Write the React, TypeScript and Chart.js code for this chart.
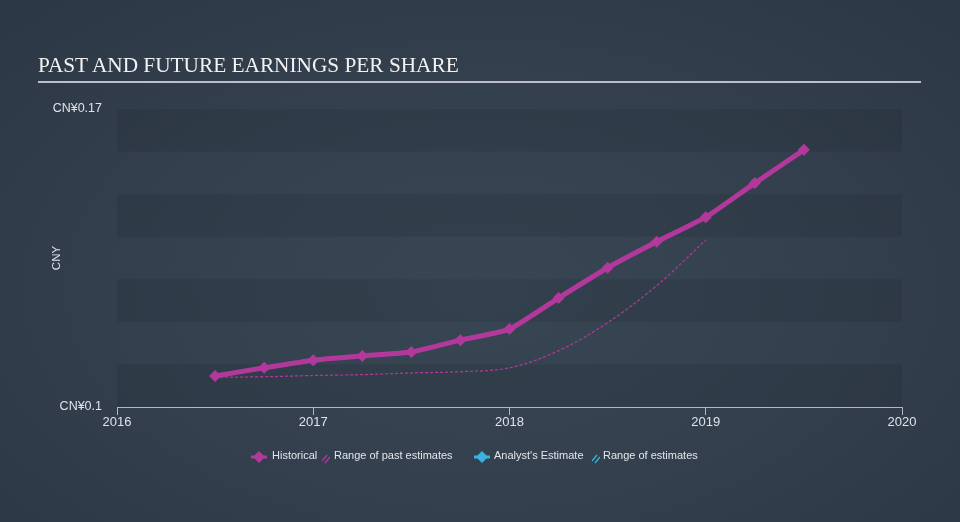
import React, { useEffect, useRef } from "react";
import { Chart, registerables } from "chart.js";

Chart.register(...registerables);

// ---- data ----
const historicalDates = [2016.5, 2016.75, 2017.0, 2017.25, 2017.5, 2017.75, 2018.0, 2018.25, 2018.5, 2018.75, 2019.0, 2019.25, 2019.5];
const historicalEps = [0.1073, 0.1092, 0.111, 0.112, 0.1129, 0.1157, 0.1183, 0.1256, 0.1327, 0.1388, 0.1446, 0.1526, 0.1604];
const pastEstimateDates = [2016.5, 2016.75, 2017.0, 2017.25, 2017.5, 2017.75, 2018.0, 2018.25, 2018.5, 2018.75, 2019.0];
const pastEstimateEps = [0.107, 0.1071, 0.1074, 0.1076, 0.108, 0.1083, 0.1092, 0.1132, 0.1198, 0.1285, 0.1392];
const yTicks = [0.1, 0.17];
const xTickYears = [2016, 2017, 2018, 2019, 2020];
const bandStep = 0.01;

const PINK = "#b3389c";
const BLUE = "#3ab2e0";
const FONT = "'Liberation Sans', Arial, sans-serif";

const bandsPlugin = {
  id: "bands",
  beforeDatasetsDraw(chart: any) {
    const { ctx, chartArea, scales } = chart;
    const y = scales.y;
    ctx.save();
    ctx.fillStyle = "rgba(0,0,0,0.075)";
    let i = 0;
    for (let v = y.max; v > y.min + 1e-9; v -= bandStep) {
      if (i % 2 === 0) {
        const top = y.getPixelForValue(v);
        const bot = y.getPixelForValue(Math.max(v - bandStep, y.min));
        ctx.fillRect(chartArea.left, top, chartArea.right - chartArea.left, bot - top);
      }
      i++;
    }
    ctx.restore();
  },
};

function Diamond({ color }: { color: string }) {
  return (
    <svg width="16" height="12" viewBox="0 0 16 12">
      <line x1="0" y1="6" x2="16" y2="6" stroke={color} strokeWidth="3" />
      <polygon points="8,0 14,6 8,12 2,6" fill={color} />
    </svg>
  );
}

function Hatch({ color }: { color: string }) {
  return (
    <svg width="8" height="10" viewBox="0 0 8 10">
      <line x1="0" y1="7" x2="5" y2="1" stroke={color} strokeWidth="1.3" />
      <line x1="3" y1="9" x2="8" y2="3" stroke={color} strokeWidth="1.3" />
    </svg>
  );
}

export default function App() {
  const canvasRef = useRef<HTMLCanvasElement | null>(null);

  useEffect(() => {
    document.body.style.margin = "0";
    const canvas = canvasRef.current;
    if (!canvas) return;
    const chart = new Chart(canvas, {
      type: "line",
      data: {
        datasets: [
          {
            label: "Range of past estimates",
            data: pastEstimateDates.map((x, i) => ({ x, y: pastEstimateEps[i] })),
            borderColor: PINK,
            borderWidth: 1.2,
            borderDash: [3, 2],
            pointRadius: 0,
            cubicInterpolationMode: "monotone",
            fill: false,
          },
          {
            label: "Historical",
            data: historicalDates.map((x, i) => ({ x, y: historicalEps[i] })),
            borderColor: PINK,
            backgroundColor: PINK,
            borderWidth: 5,
            pointStyle: "rectRot",
            pointRadius: 6,
            pointBorderWidth: 0,
            tension: 0.15,
            fill: false,
          },
        ],
      },
      options: {
        animation: false,
        responsive: false,
        clip: false as any,
        layout: { padding: { top: 109, right: 58, left: 0, bottom: 0 } },
        plugins: { legend: { display: false }, tooltip: { enabled: false } },
        scales: {
          x: {
            type: "linear",
            min: 2016,
            max: 2020,
            afterBuildTicks: (s: any) => {
              s.ticks = xTickYears.map((v) => ({ value: v }));
            },
            afterFit: (s: any) => {
              s.height = 115;
            },
            ticks: {
              color: "#dfe3e8",
              font: { family: FONT, size: 13 },
              padding: 0,
              maxRotation: 0,
              callback: (v: any) => String(v),
            },
            grid: {
              display: true,
              drawOnChartArea: false,
              drawTicks: true,
              tickLength: 8,
              color: "#aeb9c5",
              lineWidth: 1,
            },
            border: { display: true, color: "#aeb9c5", width: 1 },
          },
          y: {
            type: "linear",
            min: 0.1,
            max: 0.17,
            afterBuildTicks: (s: any) => {
              s.ticks = yTicks.map((v) => ({ value: v }));
            },
            afterFit: (s: any) => {
              s.width = 117;
            },
            ticks: {
              color: "#dfe3e8",
              font: { family: FONT, size: 12.5 },
              padding: 15,
              callback: (v: any) => "CN¥" + String(Number(v)),
            },
            grid: { display: false, drawTicks: false },
            border: { display: false },
            title: {
              display: true,
              text: "CNY",
              color: "#dfe3e8",
              font: { family: FONT, size: 11.5 },
              padding: { top: 50, bottom: 0 },
            },
          },
        },
      },
      plugins: [bandsPlugin],
    } as any);
    return () => chart.destroy();
  }, []);

  const legendText: React.CSSProperties = {
    position: "absolute",
    top: 0,
    fontFamily: FONT,
    fontSize: 11,
    lineHeight: "16px",
    color: "#e2e6ea",
    whiteSpace: "nowrap",
  };
  const icon: React.CSSProperties = { position: "absolute", top: 2 };

  return (
    <div
      style={{
        position: "fixed",
        left: 0,
        top: 0,
        width: 960,
        height: 522,
        overflow: "hidden",
        background: "radial-gradient(ellipse at 50% 55%, #384654 0%, #333f4d 55%, #2c3745 100%)",
      }}
    >
      <div
        style={{
          position: "absolute",
          left: 38,
          top: 52,
          fontFamily: "'Liberation Serif', 'Times New Roman', serif",
          fontSize: 21.3,
          lineHeight: "26px",
          color: "#f2f2f2",
          whiteSpace: "nowrap",
        }}
      >
        PAST AND FUTURE EARNINGS PER SHARE
      </div>
      <div style={{ position: "absolute", left: 38, top: 81, width: 883, height: 2, background: "#b9c0c8" }} />
      <canvas ref={canvasRef} width={960} height={522} style={{ position: "absolute", left: 0, top: 0 }} />
      <div style={{ position: "absolute", left: 0, top: 447, width: 960, height: 16 }}>
        <span style={{ ...icon, left: 251 }}><Diamond color={PINK} /></span>
        <span style={{ ...legendText, left: 272 }}>Historical</span>
        <span style={{ ...icon, left: 322, top: 3 }}><Hatch color={PINK} /></span>
        <span style={{ ...legendText, left: 334 }}>Range of past estimates</span>
        <span style={{ ...icon, left: 474 }}><Diamond color={BLUE} /></span>
        <span style={{ ...legendText, left: 494 }}>Analyst's Estimate</span>
        <span style={{ ...icon, left: 592, top: 3 }}><Hatch color={BLUE} /></span>
        <span style={{ ...legendText, left: 603 }}>Range of estimates</span>
      </div>
    </div>
  );
}
